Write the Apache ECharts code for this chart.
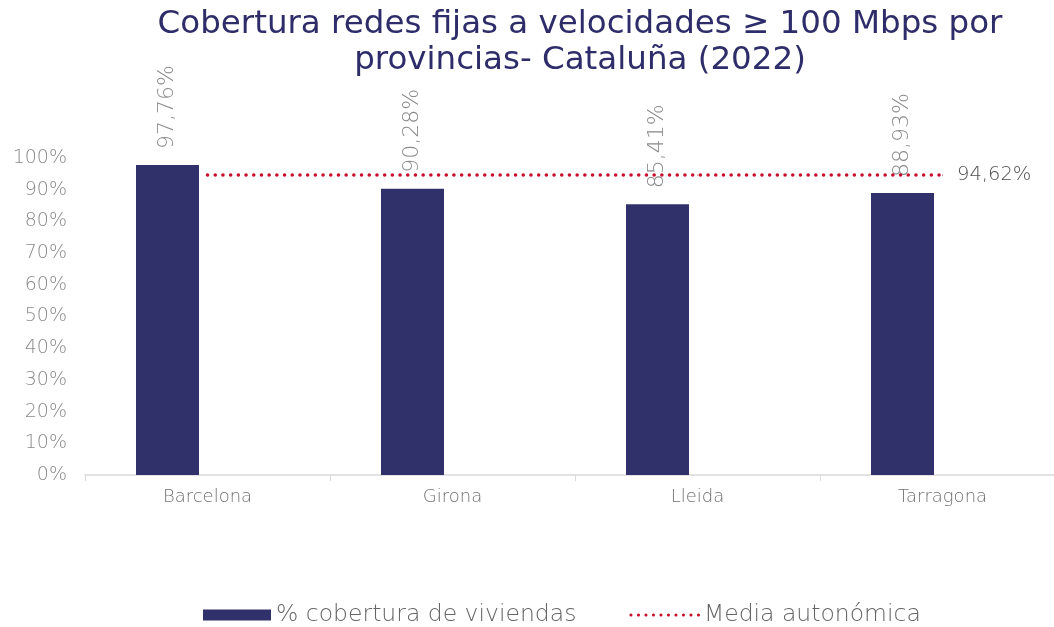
<!DOCTYPE html>
<html>
<head>
<meta charset="utf-8">
<script src="https://cdn.jsdelivr.net/npm/echarts@6/dist/echarts.min.js"></script>
<style>
    html, body { margin: 0; padding: 0; background: #fff; }
    #chart { width: 1054px; height: 627px; }
</style>
</head>
<body>
<div id="chart"></div>
<script>
// datos
var provincias = ['Barcelona', 'Girona', 'Lleida', 'Tarragona'];
var cobertura = [97.76, 90.28, 85.41, 88.93];
var media = [94.62, 94.62, 94.62, 94.62];
var hueco = [0, 0, 0, 0];

var fuente = 'DejaVu Sans';
function pct(v) {
    return v.toFixed(2).replace('.', ',') + '%';
}

var chart = echarts.init(document.getElementById('chart'));
chart.setOption({
    animation: false,
    title: {
        text: 'Cobertura redes fijas a velocidades \u2265 100 Mbps por\nprovincias- Cataluña (2022)',
        left: 580,
        top: 7,
        padding: 0,
        textAlign: 'center',
        textStyle: {
            fontFamily: fuente,
            fontWeight: 400,
            fontSize: 32.5,
            lineHeight: 36,
            color: '#2E2D6A'
        }
    },
    legend: {
        data: [
            { name: '% cobertura de viviendas', icon: 'rect' },
            {
                name: 'Media autonómica',
                itemStyle: { opacity: 0 },
                lineStyle: { color: '#C8102E', width: 3, type: [0.1, 7.4], cap: 'round' }
            }
        ],
        top: 603,
        left: 203,
        padding: 0,
        itemWidth: 68,
        itemHeight: 11,
        itemGap: 53,
        textStyle: {
            fontFamily: fuente,
            fontWeight: 200,
            fontSize: 23.5,
            color: '#656565'
        }
    },
    grid: {
        left: 85,
        width: 980,
        top: 158,
        bottom: 152,
        outerBoundsMode: 'none'
    },
    xAxis: {
        type: 'category',
        data: provincias,
        axisLine: { lineStyle: { color: '#D9D9D9', width: 1.5 } },
        axisTick: { show: true, length: 6, lineStyle: { color: '#D9D9D9' } },
        axisLabel: {
            margin: 13,
            fontFamily: fuente,
            fontWeight: 200,
            fontSize: 18,
            color: '#707070'
        }
    },
    yAxis: {
        type: 'value',
        min: 0,
        max: 100,
        interval: 10,
        splitLine: { show: false },
        axisLabel: {
            margin: 18,
            fontFamily: fuente,
            fontWeight: 200,
            fontSize: 19,
            color: '#8A8A8A',
            formatter: '{value}%'
        }
    },
    series: [
        {
            name: '% cobertura de viviendas',
            type: 'bar',
            data: cobertura,
            barWidth: 63,
            barGap: '27%',
            itemStyle: { color: '#30306A' },
            label: {
                show: true,
                position: 'top',
                rotate: 90,
                align: 'left',
                verticalAlign: 'middle',
                distance: 16,
                fontFamily: fuente,
                fontWeight: 200,
                fontSize: 22,
                color: '#8A8A8A',
                formatter: function (p) { return pct(p.value); }
            }
        },
        {
            name: 'hueco',
            type: 'bar',
            data: hueco,
            barWidth: 63,
            silent: true,
            itemStyle: { color: 'rgba(0,0,0,0)' }
        },
        {
            name: 'Media autonómica',
            type: 'line',
            data: media,
            symbol: 'circle',
            symbolSize: 1,
            showSymbol: true,
            lineStyle: {
                color: '#C8102E',
                width: 3.5,
                type: [0.1, 7.6],
                cap: 'round'
            },
            itemStyle: { color: '#C8102E' },
            label: {
                show: true,
                position: 'right',
                distance: 14,
                fontFamily: fuente,
                fontWeight: 200,
                fontSize: 19.5,
                color: '#505050',
                formatter: function (p) {
                    return p.dataIndex === media.length - 1 ? pct(p.value) : '';
                }
            }
        }
    ]
});
</script>
</body>
</html>
